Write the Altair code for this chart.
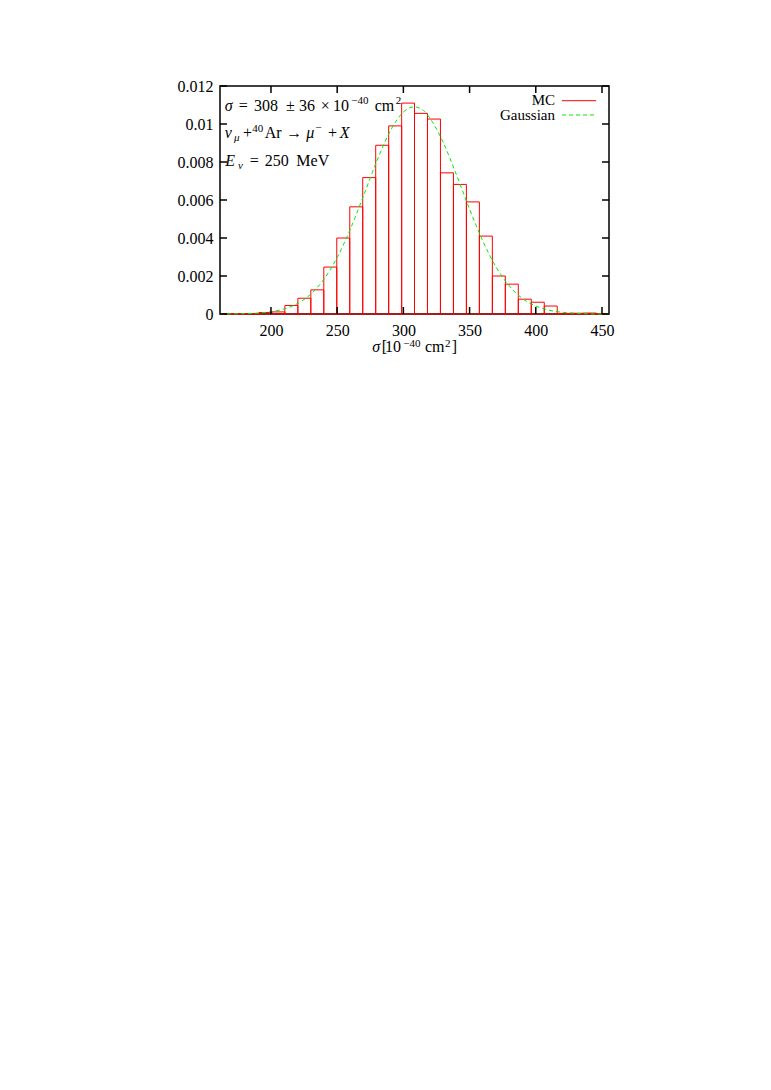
import altair as alt
import pandas as pd

# ---------------- data ----------------
bin_edges = [161.5, 171.3, 181.1, 190.9, 200.7, 210.5, 220.3, 230.1, 239.9, 249.7,
             259.5, 269.3, 279.1, 288.9, 298.7, 308.4, 318.2, 328.0, 337.8, 347.6,
             357.4, 367.2, 377.0, 386.8, 396.6, 406.4, 416.2, 426.0, 435.8, 445.6, 455.3]
mc_density = [0.0, 0.00001, 0.00002, 0.00008, 0.00011, 0.00045, 0.00083, 0.00127, 0.00247, 0.0040,
              0.00564, 0.00718, 0.00888, 0.0099, 0.0111, 0.01056, 0.01026, 0.00743, 0.00682, 0.0059,
              0.0041, 0.0020, 0.00157, 0.00078, 0.00062, 0.00042, 0.00003, 0.00004, 0.00005, 0.00002]

gauss_x = [161.5, 170, 180, 190, 200, 210, 220, 230, 240, 250, 260, 270, 280, 290, 300,
           308, 315, 320, 330, 340, 350, 360, 370, 380, 390, 400, 410, 420, 430, 440, 450, 455.3]
gauss_y = [0.0, 0.00001, 0.00002, 0.00005, 0.00012, 0.00027, 0.00055, 0.00104, 0.00183, 0.00298,
           0.00448, 0.00624, 0.00806, 0.00962, 0.01063, 0.0109, 0.01072, 0.01031, 0.00904, 0.00734,
           0.00552, 0.00384, 0.00247, 0.00148, 0.00081, 0.00042, 0.0002, 0.00009, 0.00004, 0.00001,
           0.0, 0.0]

x_ticks = [200, 250, 300, 350, 400, 450]
y_ticks = [0, 0.002, 0.004, 0.006, 0.008, 0.01, 0.012]

legend_labels = ["MC", "Gaussian"]

# ---------------- chart ----------------
W, H = 389, 228
FONT = "Liberation Serif"
FS = 16
SS = 11
LS = 15
RED = "#ff0000"
GREEN = "#00ee00"

hist_df = pd.DataFrame({"x0": bin_edges[:-1], "x1": bin_edges[1:], "d": mc_density,
                        "base": [0.0] * len(mc_density)})
gauss_df = pd.DataFrame({"x": gauss_x, "y": gauss_y})
xt_df = pd.DataFrame({"v": x_ticks})
yt_df = pd.DataFrame({"v": y_ticks})
one = pd.DataFrame({"a": [0]})

xs = alt.Scale(domain=[bin_edges[0], bin_edges[-1]], nice=False, zero=False)
ys = alt.Scale(domain=[0, 0.012], nice=False, zero=False)

bars = alt.Chart(hist_df).mark_rect(filled=False, stroke=RED, strokeWidth=1).encode(
    x=alt.X("x0:Q", scale=xs, axis=alt.Axis(
        values=x_ticks, ticks=False, domain=False, grid=False, labelFont=FONT,
        labelFontSize=FS, labelColor="black", labelPadding=8, title=None)),
    x2="x1:Q",
    y=alt.Y("d:Q", scale=ys, axis=alt.Axis(
        values=y_ticks, format="~g", ticks=False, domain=False, grid=False,
        labelFont=FONT, labelFontSize=FS, labelColor="black", labelPadding=7, title=None)),
    y2="base:Q",
)

gauss = alt.Chart(gauss_df).mark_line(color=GREEN, strokeWidth=1, strokeDash=[4, 3],
                                      interpolate="monotone").encode(
    x=alt.X("x:Q", scale=xs, axis=alt.Axis(orient="top", labels=False, ticks=False,
                                           domain=False, grid=False, title=None)),
    y=alt.Y("y:Q", scale=ys, axis=alt.Axis(orient="right", labels=False, ticks=False,
                                           domain=False, grid=False, title=None)),
)

tick_style = dict(color="black", strokeWidth=1.5)
bt = alt.Chart(xt_df).mark_rule(**tick_style).encode(
    x=alt.X("v:Q", scale=xs, axis=None), y=alt.value(H), y2=alt.value(H - 7))
tt = alt.Chart(xt_df).mark_rule(**tick_style).encode(
    x=alt.X("v:Q", scale=xs, axis=None), y=alt.value(0), y2=alt.value(7))
lt = alt.Chart(yt_df).mark_rule(**tick_style).encode(
    y=alt.Y("v:Q", scale=ys, axis=None), x=alt.value(0), x2=alt.value(7))
rt = alt.Chart(yt_df).mark_rule(**tick_style).encode(
    y=alt.Y("v:Q", scale=ys, axis=None), x=alt.value(W), x2=alt.value(W - 7))


def txt(s, x, y, size=FS, italic=False, align="left"):
    kw = dict(font=FONT, fontSize=size, color="black", align=align, baseline="alphabetic")
    if italic:
        kw["fontStyle"] = "italic"
    return alt.Chart(one).mark_text(**kw).encode(
        x=alt.value(x), y=alt.value(y), text=alt.value(s))


texts = [
    # line 1: sigma = 308 +- 36 x 10^-40 cm^2
    txt("σ", 4.7, 25, italic=True),
    txt("=", 18.7, 25),
    txt("308", 34, 25),
    txt("±", 66, 25),
    txt("36", 79, 25),
    txt("×", 100.7, 25),
    txt("10", 113, 25),
    txt("−40", 131.3, 18, size=SS),
    txt("cm", 154.7, 25),
    txt("2", 175.7, 18, size=SS),
    # line 2: nu_mu + 40Ar -> mu^- + X
    txt("ν", 4.7, 51.7, italic=True),
    txt("μ", 14, 54.5, size=SS, italic=True),
    txt("+", 23, 51.7),
    txt("40", 32.3, 45.5, size=SS),
    txt("Ar", 44.7, 51.7),
    txt("→", 66.3, 51.7),
    txt("μ", 86.3, 51.7, italic=True),
    txt("−", 95.3, 45, size=SS),
    txt("+", 108, 51.7),
    txt("X", 119.7, 51.7, italic=True),
    # line 3: E_nu = 250 MeV
    txt("E", 5.3, 80, italic=True),
    txt("ν", 18, 83, size=SS, italic=True),
    txt("=", 29.7, 80),
    txt("250", 44.7, 80),
    txt("MeV", 76.3, 80),
    # x-axis title: sigma[10^-40 cm^2]
    txt("σ", 152.3, 266.3, italic=True),
    txt("[", 161.7, 266.3),
    txt("10", 165, 266.3),
    txt("−40", 183.3, 260.5, size=SS),
    txt("cm", 205, 266.3),
    txt("2", 225, 260.5, size=SS),
    txt("]", 231.7, 266.3),
    # legend
    txt(legend_labels[0], 335, 19.3, size=LS, align="right"),
    txt(legend_labels[1], 335, 34.4, size=LS, align="right"),
]

leg_red = alt.Chart(one).mark_rule(color=RED, strokeWidth=1).encode(
    x=alt.value(342), x2=alt.value(376), y=alt.value(14.7))
leg_green = alt.Chart(one).mark_rule(color=GREEN, strokeWidth=1, strokeDash=[4, 3]).encode(
    x=alt.value(342), x2=alt.value(376), y=alt.value(29))

chart = alt.layer(bars, gauss, bt, tt, lt, rt, leg_red, leg_green, *texts).resolve_axis(
    x="independent", y="independent"
).properties(
    width=W, height=H, autosize="none",
    padding={"left": 212, "top": 78, "right": 150, "bottom": 60},
    background="white",
).configure_view(stroke="black", strokeWidth=1.5)

chart.save("out.html", embed_options={"renderer": "svg", "actions": False})
